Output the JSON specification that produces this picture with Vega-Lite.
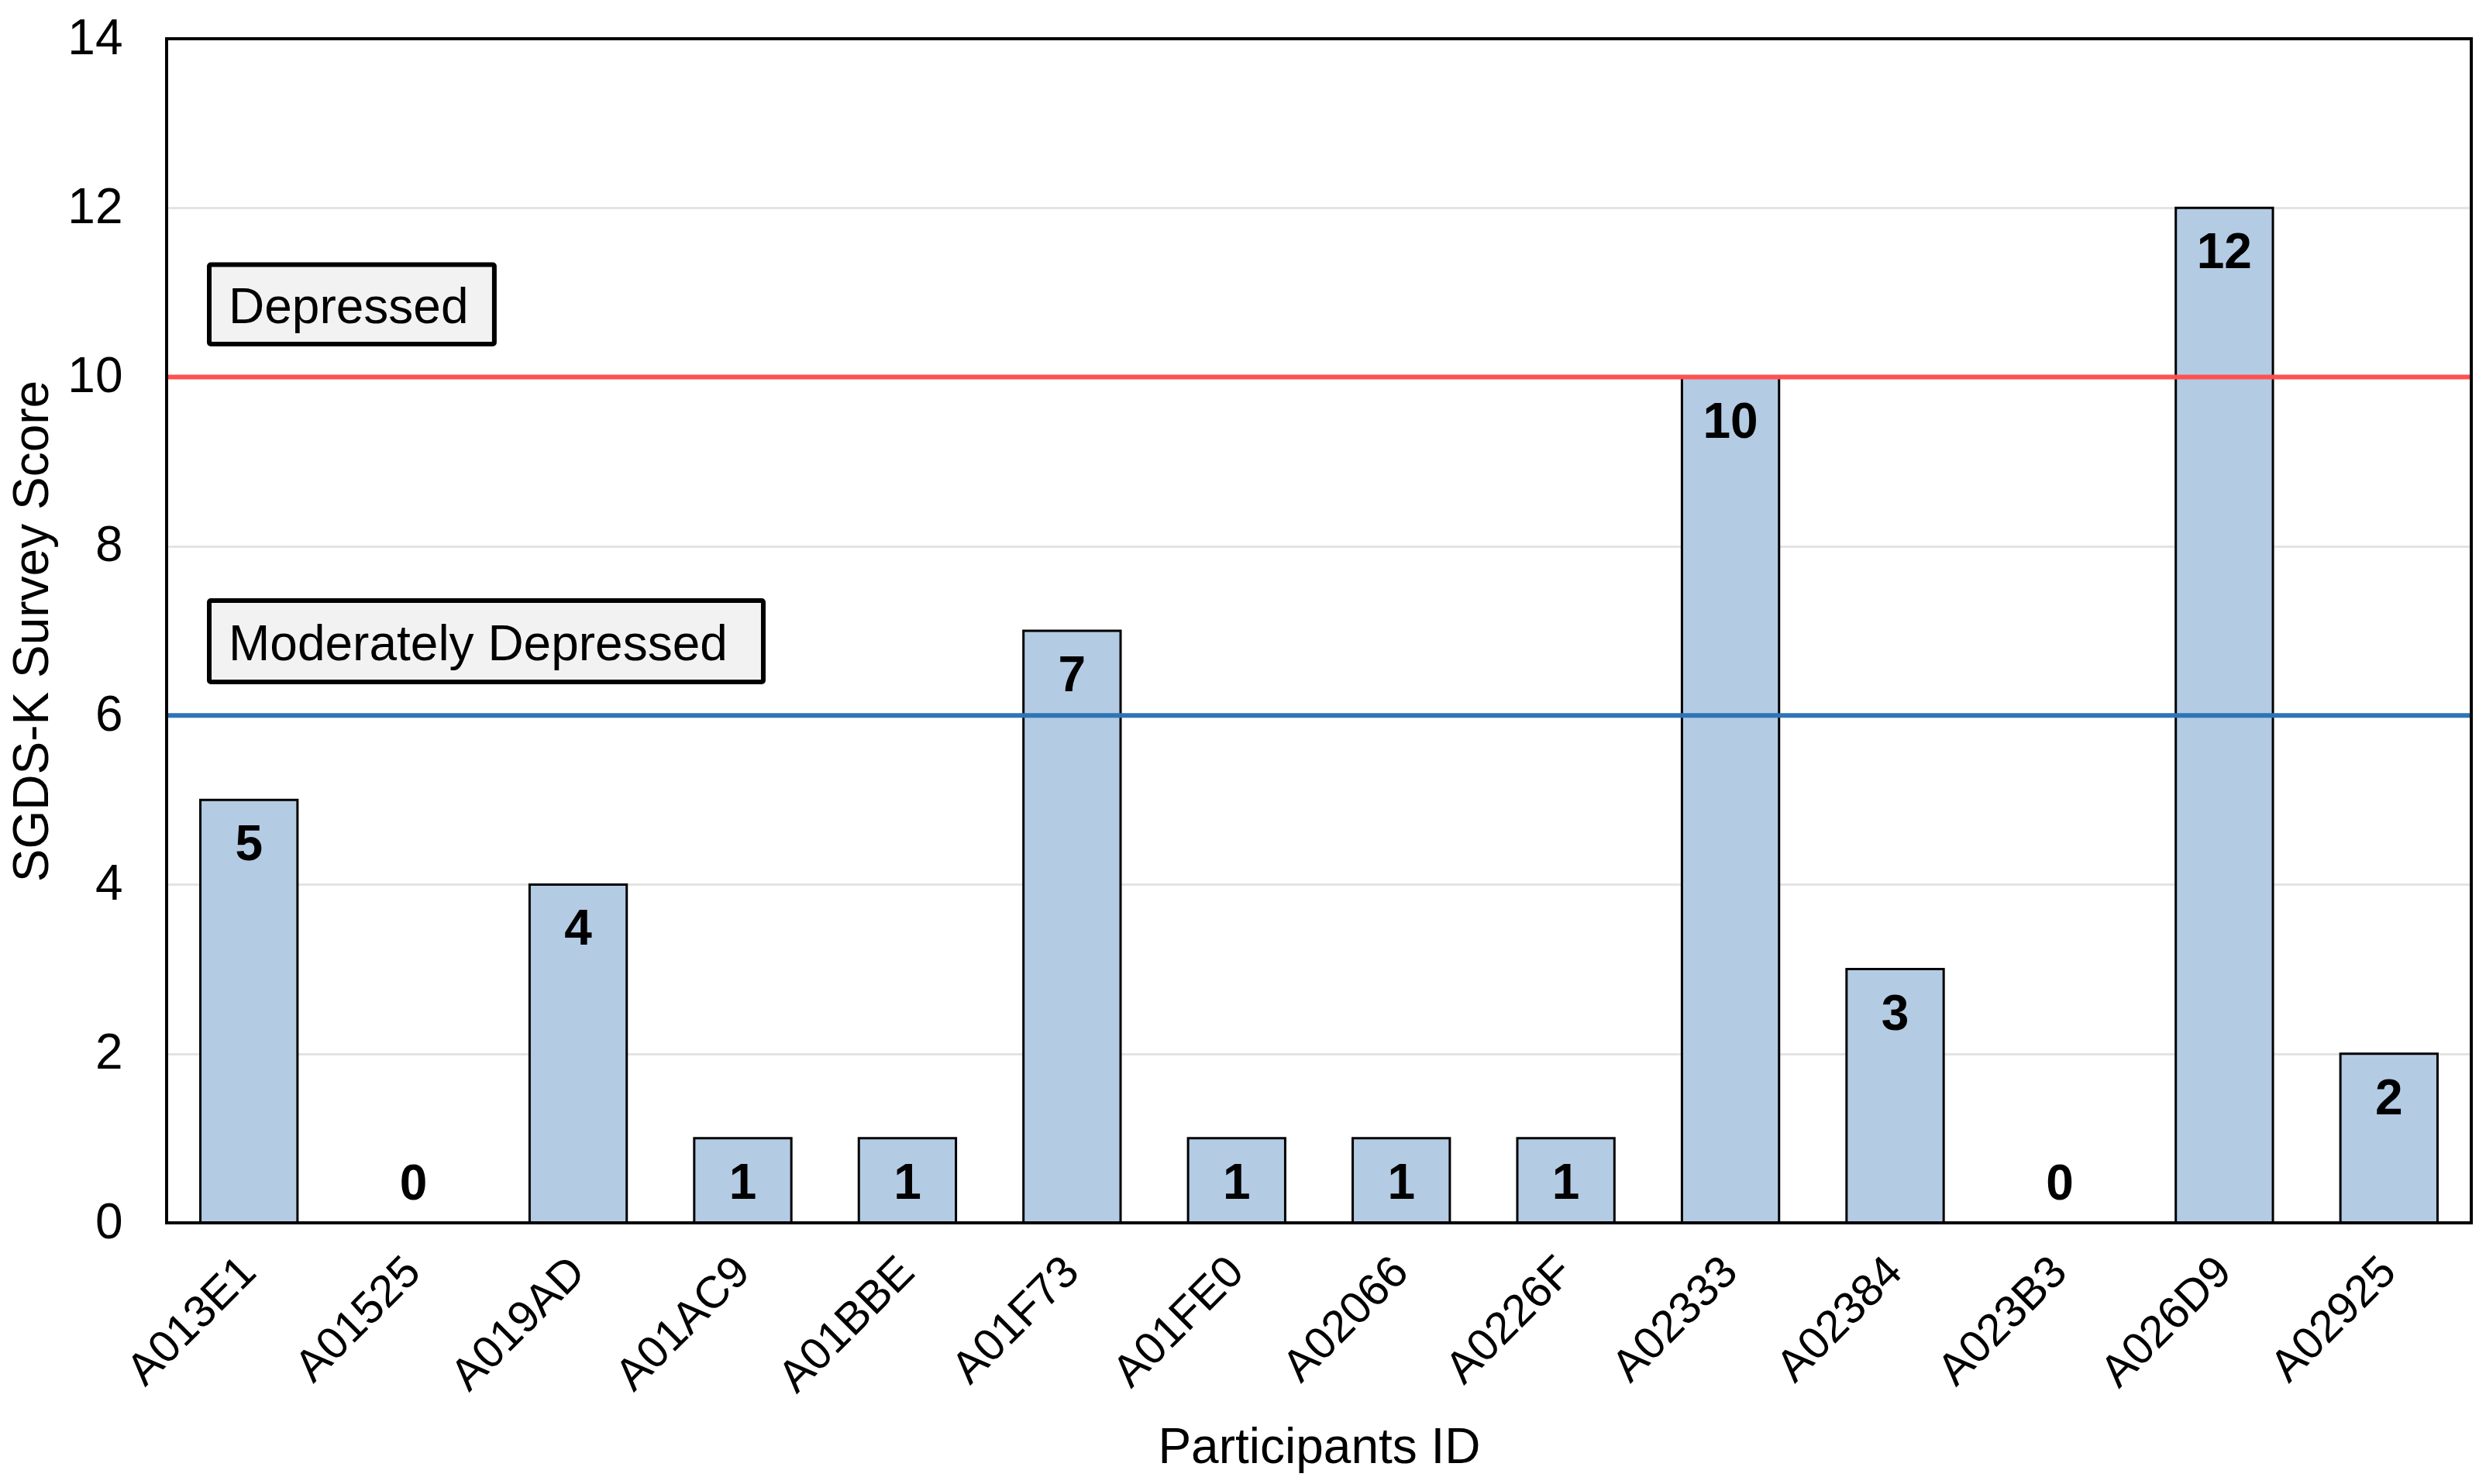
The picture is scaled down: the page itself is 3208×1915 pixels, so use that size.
{
  "$schema": "https://vega.github.io/schema/vega-lite/v6.json",
  "autosize": {"type": "none"},
  "width": 2974,
  "height": 1528,
  "padding": {"left": 215, "top": 50, "right": 19, "bottom": 337},
  "background": "white",
  "config": {
    "font": "Liberation Sans",
    "view": {"stroke": null},
    "axis": {"labelColor": "black", "titleColor": "black", "labelFont": "Liberation Sans", "titleFont": "Liberation Sans"}
  },
  "data": {
    "values": [
      {"participant": "A013E1", "score": 5},
      {"participant": "A01525", "score": 0},
      {"participant": "A019AD", "score": 4},
      {"participant": "A01AC9", "score": 1},
      {"participant": "A01BBE", "score": 1},
      {"participant": "A01F73", "score": 7},
      {"participant": "A01FE0", "score": 1},
      {"participant": "A02066", "score": 1},
      {"participant": "A0226F", "score": 1},
      {"participant": "A02333", "score": 10},
      {"participant": "A02384", "score": 3},
      {"participant": "A023B3", "score": 0},
      {"participant": "A026D9", "score": 12},
      {"participant": "A02925", "score": 2}
    ]
  },
  "resolve": {"scale": {"x": "independent"}},
  "layer": [
    {
      "encoding": {
        "x": {
          "field": "participant", "type": "nominal", "sort": null,
          "scale": {"paddingInner": 0.41, "paddingOuter": 0.205},
          "axis": {
            "title": "Participants ID", "titleFontSize": 64, "titleFontWeight": "normal", "titlePadding": 58,
            "labelAngle": -45, "labelAlign": "right", "labelBaseline": "middle", "labelFontSize": 58,
            "labelPadding": 54, "labelLimit": 0, "ticks": false, "tickSize": 0, "domain": false, "grid": false
          }
        },
        "y": {
          "field": "score", "type": "quantitative",
          "scale": {"domain": [0, 14], "nice": false},
          "axis": {
            "title": "SGDS-K Survey Score", "titleFontSize": 64, "titleFontWeight": "normal", "titlePadding": 12,
            "values": [0, 2, 4, 6, 8, 10, 12, 14], "format": "d", "labelFontSize": 64, "labelPadding": 57,
            "ticks": false, "tickSize": 0, "domain": false,
            "grid": true, "gridColor": "#E3E3E3", "gridWidth": 3
          }
        }
      },
      "layer": [
        {
          "mark": {"type": "bar", "fill": "#B4CBE4", "stroke": "black", "strokeWidth": 3}
        },
        {
          "transform": [{"filter": "datum.score > 0"}],
          "mark": {"type": "text", "font": "Liberation Sans", "fontWeight": "bold", "fontSize": 64, "color": "black", "baseline": "alphabetic", "align": "center", "dy": 78},
          "encoding": {"text": {"field": "score", "type": "quantitative"}}
        },
        {
          "transform": [{"filter": "datum.score == 0"}],
          "mark": {"type": "text", "font": "Liberation Sans", "fontWeight": "bold", "fontSize": 64, "color": "black", "baseline": "alphabetic", "align": "center", "dy": -30},
          "encoding": {"text": {"field": "score", "type": "quantitative"}}
        }
      ]
    },
    {
      "data": {"values": [{"threshold": "Depressed"}]},
      "mark": {"type": "rule", "color": "#FF5050", "strokeWidth": 6},
      "encoding": {
        "y": {"datum": 10, "type": "quantitative", "scale": {"domain": [0, 14], "nice": false}}
      }
    },
    {
      "data": {"values": [{"threshold": "Moderately Depressed"}]},
      "mark": {"type": "rule", "color": "#2E75B6", "strokeWidth": 6},
      "encoding": {
        "y": {"datum": 6, "type": "quantitative", "scale": {"domain": [0, 14], "nice": false}}
      }
    },
    {
      "data": {"values": [{"label": "Depressed"}]},
      "mark": {"type": "rect", "fill": "#F2F2F2", "stroke": "black", "strokeWidth": 6, "cornerRadius": 2},
      "encoding": {
        "x": {"datum": 0.0185, "type": "quantitative", "scale": {"domain": [0, 1], "nice": false, "zero": false}, "axis": null},
        "x2": {"datum": 0.1422},
        "y": {"datum": 11.33, "type": "quantitative", "scale": {"domain": [0, 14], "nice": false}},
        "y2": {"datum": 10.39}
      }
    },
    {
      "data": {"values": [{"label": "Moderately Depressed"}]},
      "mark": {"type": "rect", "fill": "#F2F2F2", "stroke": "black", "strokeWidth": 6, "cornerRadius": 2},
      "encoding": {
        "x": {"datum": 0.0185, "type": "quantitative", "scale": {"domain": [0, 1], "nice": false, "zero": false}, "axis": null},
        "x2": {"datum": 0.2589},
        "y": {"datum": 7.357, "type": "quantitative", "scale": {"domain": [0, 14], "nice": false}},
        "y2": {"datum": 6.395}
      }
    },
    {
      "data": {"values": [{"label": "Depressed", "level": 10.64}, {"label": "Moderately Depressed", "level": 6.65}]},
      "mark": {"type": "text", "font": "Liberation Sans", "fontSize": 64, "color": "black", "align": "left", "baseline": "alphabetic"},
      "encoding": {
        "x": {"datum": 0.0269, "type": "quantitative", "scale": {"domain": [0, 1], "nice": false, "zero": false}, "axis": null},
        "y": {"field": "level", "type": "quantitative", "scale": {"domain": [0, 14], "nice": false}},
        "text": {"field": "label", "type": "nominal"}
      }
    },
    {
      "data": {"values": [{"frame": "plot area"}]},
      "mark": {"type": "rect", "fill": null, "stroke": "black", "strokeWidth": 4},
      "encoding": {
        "x": {"datum": 0, "type": "quantitative", "scale": {"domain": [0, 1], "nice": false, "zero": false}, "axis": null},
        "x2": {"datum": 1},
        "y": {"datum": 0, "type": "quantitative", "scale": {"domain": [0, 14], "nice": false}},
        "y2": {"datum": 14}
      }
    }
  ]
}
